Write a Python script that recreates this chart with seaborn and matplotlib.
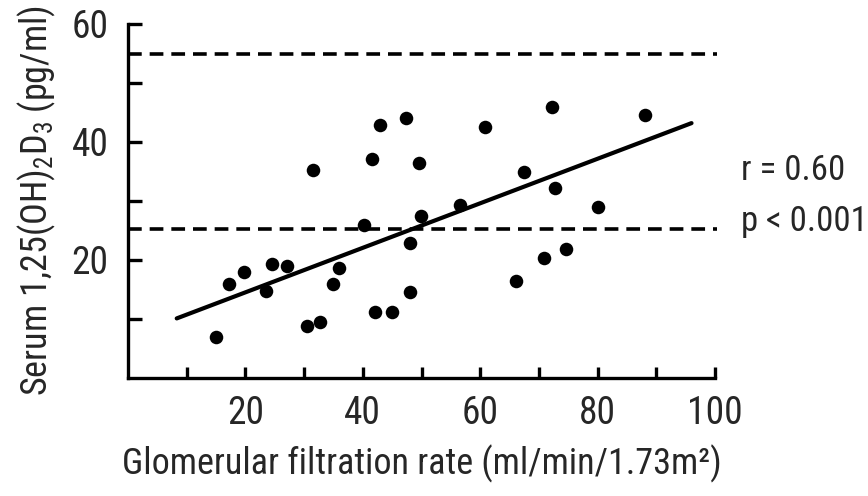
import matplotlib
matplotlib.use("Agg")
import matplotlib.pyplot as plt
import seaborn as sns
import pandas as pd

# Data
gfr = [15.0, 17.2, 19.8, 23.5, 24.6, 27.1, 30.5, 31.6, 32.7, 34.9, 35.9,
       40.2, 41.6, 42.1, 42.9, 44.9, 47.3, 48.0, 48.0, 49.6, 49.9, 56.6,
       60.9, 66.1, 67.5, 70.9, 72.2, 72.7, 74.6, 80.0, 88.1]
vitd = [6.9, 15.9, 18.0, 14.7, 19.4, 19.0, 8.8, 35.3, 9.5, 15.9, 18.6,
        26.0, 37.1, 11.2, 42.8, 11.2, 44.0, 22.9, 14.5, 36.5, 27.5, 29.3,
        42.6, 16.5, 35.0, 20.3, 46.0, 32.2, 21.9, 29.0, 44.6]
fit_x = [8.3, 96.0]
fit_y = [10.1, 43.2]
ref_upper = 55
ref_lower = 25.2
x_ticks = [10, 20, 30, 40, 50, 60, 70, 80, 90, 100]
x_ticklabels = ["", "20", "", "40", "", "60", "", "80", "", "100"]
y_ticks = [10, 20, 30, 40, 50, 60]
y_ticklabels = ["", "20", "", "40", "", "60"]
stats_text = ["r = 0.60", "p < 0.001"]

sns.set_style("ticks")
FONT = ["Roboto Condensed", "Liberation Sans Narrow", "DejaVu Sans Condensed",
        "Roboto", "DejaVu Sans"]
plt.rcParams["font.family"] = FONT
plt.rcParams["font.stretch"] = "condensed"
plt.rcParams["mathtext.fontset"] = "custom"
plt.rcParams["mathtext.rm"] = "Roboto Condensed"
plt.rcParams["mathtext.it"] = "Roboto Condensed"

fig = plt.figure(figsize=(8.68, 4.96), dpi=100)
ax = fig.add_axes([128 / 868, 118 / 496, (715 - 128) / 868, (378 - 24) / 496])

df = pd.DataFrame({"gfr": gfr, "vitd": vitd})
fit = pd.DataFrame({"x": fit_x, "y": fit_y})

sns.scatterplot(data=df, x="gfr", y="vitd", ax=ax, color="black", s=95,
                edgecolor="black", linewidth=0, zorder=3)
sns.lineplot(data=fit, x="x", y="y", ax=ax, color="black", lw=3.0, zorder=2)

for yv in (ref_upper, ref_lower):
    ax.plot([0, 100.3], [yv, yv], color="black", lw=2.6,
            linestyle=(0, (3.8, 2.2)), clip_on=False, zorder=2)

ax.set_xlim(0, 100)
ax.set_ylim(0, 60)
ax.set_xticks(x_ticks)
ax.set_xticklabels(x_ticklabels)
ax.set_yticks(y_ticks)
ax.set_yticklabels(y_ticklabels)
ax.tick_params(axis="both", direction="in", width=2.4,
               labelsize=27, color="black")
ax.tick_params(axis="x", pad=12, length=8)
ax.tick_params(axis="y", pad=14, length=10)

for side in ("top", "right"):
    ax.spines[side].set_visible(False)
for side in ("left", "bottom"):
    ax.spines[side].set_linewidth(2.4)
    ax.spines[side].set_color("black")

ax.set_xlabel("Glomerular filtration rate (ml/min/1.73m²)", fontsize=26,
              labelpad=9)
ax.set_ylabel("Serum 1,25(OH)$_2$D$_3$ (pg/ml)", fontsize=26, labelpad=10)

fig.text(741 / 868, 1 - 171 / 496, stats_text[0], fontsize=25,
         ha="left", va="center")
fig.text(741 / 868, 1 - 221 / 496, stats_text[1], fontsize=25,
         ha="left", va="center")

fig.savefig("out.png", dpi=100, facecolor="white")
